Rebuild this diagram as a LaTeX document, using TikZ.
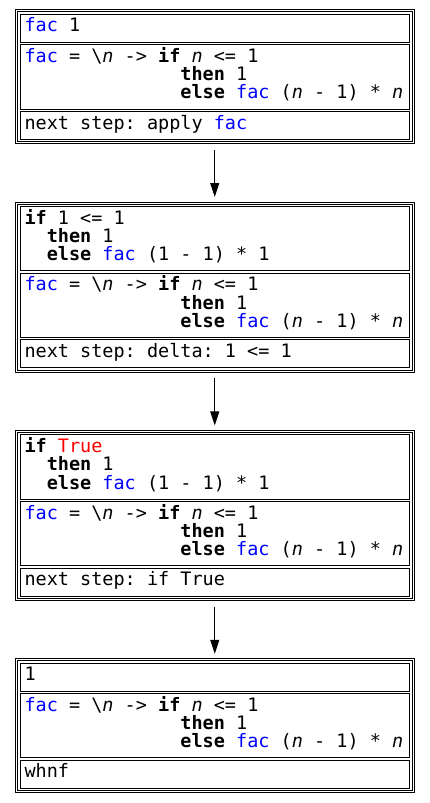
\documentclass[tikz,border=0pt]{standalone}
\usepackage{fontspec}
\newfontfamily\codefam{DejaVu Sans Mono}[
  BoldFont={DejaVu Sans Mono Bold},
  ItalicFont={DejaVu Sans Mono Oblique},
  BoldItalicFont={DejaVu Sans Mono Bold Oblique}]
\usepackage{xcolor}
\usetikzlibrary{arrows.meta, positioning, fit}

\newcommand{\codefont}{\codefam\fontsize{18.5bp}{18.3bp}\selectfont}
\newcommand{\kw}[1]{\textbf{#1}}
\newcommand{\fac}{\textcolor{blue}{fac}}
\newcommand{\nv}{\textit{n}}
\newcommand{\ind}[1]{\hspace*{#1\fontcharwd\font`0}}
\newcommand{\ws}{\hspace{\fontcharwd\font`0}}
\newcommand{\facdef}{\fac\ws =\ws \textbackslash\nv\ws ->\ws \kw{if}\ws \nv\ws <=\ws 1\\
  \ind{14}\kw{then}\ws 1\\
  \ind{14}\kw{else}\ws \fac\ws (\nv\ws -\ws 1)\ws *\ws \nv}

\tikzset{
  codecell/.style={draw, rectangle, line width=1bp, anchor=north west, outer sep=0pt,
    inner xsep=4.5bp, inner ysep=0pt, text width=380.5bp,
    text height=17.5bp, font=\codefont},
  oneline/.style={text depth=10.3bp},
  threeline/.style={text depth=46.7bp},
  stepframe/.style={draw, rectangle, line width=1bp, double, double distance=1bp,
    inner sep=3.5bp, outer sep=0pt},
  flow/.style={-{Triangle[length=14bp, width=9bp]}, line width=1bp,
    shorten <=7bp, shorten >=6bp}
}

\begin{document}
\begin{tikzpicture}[x=1bp, y=-1bp, node distance=2.5bp]
\useasboundingbox (0,0) rectangle (429,803);

% apply fac
\node[codecell, oneline] (c11) at (20,14.5) {\fac\ws 1};
\node[codecell, threeline, below=of c11] (c12) {\facdef};
\node[codecell, oneline, below=of c12] (c13) {next\ws step:\ws apply\ws \fac};
\node[stepframe, fit=(c11)(c13)] (b1) {};

% delta
\node[codecell, threeline, below=67.2bp of c13] (c21) {\kw{if}\ws 1\ws <=\ws 1\\
  \ind{2}\kw{then}\ws 1\\
  \ind{2}\kw{else}\ws \fac\ws (1\ws -\ws 1)\ws *\ws 1};
\node[codecell, threeline, below=of c21] (c22) {\facdef};
\node[codecell, oneline, below=of c22] (c23) {next\ws step:\ws delta:\ws 1\ws <=\ws 1};
\node[stepframe, fit=(c21)(c23)] (b2) {};

% if True
\node[codecell, threeline, below=67.2bp of c23] (c31) {\kw{if}\ws \textcolor{red}{True}\\
  \ind{2}\kw{then}\ws 1\\
  \ind{2}\kw{else}\ws \fac\ws (1\ws -\ws 1)\ws *\ws 1};
\node[codecell, threeline, below=of c31] (c32) {\facdef};
\node[codecell, oneline, below=of c32] (c33) {next\ws step:\ws if\ws True};
\node[stepframe, fit=(c31)(c33)] (b3) {};

% whnf
\node[codecell, oneline, below=67.2bp of c33] (c41) {1};
\node[codecell, threeline, below=of c41] (c42) {\facdef};
\node[codecell, oneline, below=of c42] (c43) {whnf};
\node[stepframe, fit=(c41)(c43)] (b4) {};

\draw[flow] (b1) -- (b2);
\draw[flow] (b2) -- (b3);
\draw[flow] (b3) -- (b4);
\end{tikzpicture}
\end{document}
